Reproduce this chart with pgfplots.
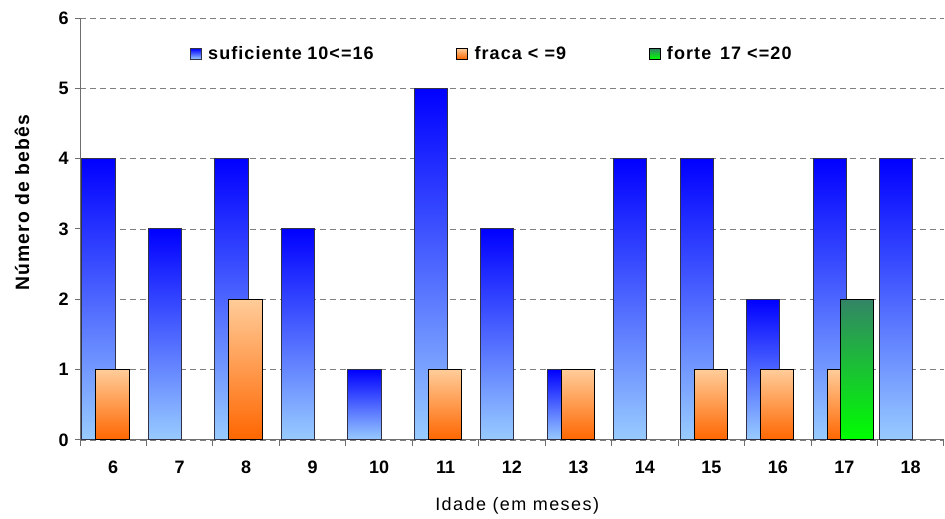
\documentclass[border=0pt]{standalone}
\usepackage{pgfplots}
\pgfplotsset{compat=1.18}
\usepackage{fontspec}
\setmainfont{Liberation Sans}
\newfontfamily\lsfont[LetterSpace=6]{Liberation Sans}
\newfontfamily\lxfont[LetterSpace=8]{Liberation Sans}
\newcommand{\lf}{\fontsize{13.5}{16}\selectfont}
\definecolor{btop}{RGB}{0,0,255}
\definecolor{bbot}{RGB}{153,204,255}
\definecolor{bedge}{RGB}{50,50,70}
\definecolor{otop}{RGB}{255,204,153}
\definecolor{obot}{RGB}{255,102,0}
\definecolor{gtop}{RGB}{51,133,102}
\definecolor{gbot}{RGB}{0,255,0}
\definecolor{axgray}{RGB}{110,110,110}
\pgfplotsset{
  sq legend/.style={legend image code/.code={\draw[##1,line width=0.6pt] (0pt,-4pt) rectangle (8pt,4pt);}},
  bS/.style={sq legend, bar shift=-0.22, draw=bedge, line width=0.75pt, top color=btop, bottom color=bbot},
  oS/.style={sq legend, bar shift=-0.01, draw=black, line width=0.75pt, top color=otop, bottom color=obot},
  gS/.style={sq legend, bar shift=0.19, draw=black, line width=0.75pt, top color=gtop, bottom color=gbot},
}
\begin{document}
\begin{tikzpicture}
\begin{axis}[
  scale only axis, width=648pt, height=316.5pt,
  xmin=5.5, xmax=18.5, ymin=0, ymax=6,
  axis x line*=bottom, axis y line*=left,
  axis line style={draw=axgray, line width=0.75pt},
  ybar, bar width=0.5,
  xtick={6,...,18},
  major x tick style={draw=none},
  minor xtick={5.5,6.5,...,18.5},
  minor x tick style={draw=axgray, line width=0.75pt},
  ytick={0,...,6},
  y tick style={draw=axgray, line width=0.75pt},
  tick align=outside,
  major tick length=4pt, minor tick length=4.5pt,
  ymajorgrids,
  grid style={gray, line width=0.6pt, dash pattern=on 4.5pt off 3pt},
  /pgf/number format/assume math mode=true,
  xticklabel style={font=\lf\bfseries, yshift=-8.5pt},
  yticklabel style={font=\lf\bfseries, xshift=-1pt},
  xlabel={Idade (em meses)},
  xlabel style={font=\lf\lxfont, at={(axis description cs:0.506,-0.156)}, anchor=center},
  ylabel={Número de bebês},
  ylabel style={font=\fontsize{14.5}{17}\selectfont\lsfont\bfseries, at={(axis description cs:-0.067,0.562)}, anchor=center},
  legend columns=3,
  legend style={draw=none, fill=none, font=\lf\lsfont\bfseries,
    at={(axis description cs:0.477,0.915)}, anchor=center,
    /tikz/every odd column/.append style={column sep=3pt},
    /tikz/every even column/.append style={column sep=60pt}},
  clip=false,
]
% suficiente 10<=16
\addplot[bS] coordinates {(6,4)};
\addlegendentry{suficiente\hspace{0.3em}10<=16}
\addplot[bS, forget plot] coordinates {(7,3)};
\addplot[bS, forget plot] coordinates {(8,4)};
\addplot[bS, forget plot] coordinates {(9,3)};
\addplot[bS, forget plot] coordinates {(10,1)};
\addplot[bS, forget plot] coordinates {(11,5)};
\addplot[bS, forget plot] coordinates {(12,3)};
\addplot[bS, forget plot] coordinates {(13,1)};
\addplot[bS, forget plot] coordinates {(14,4)};
\addplot[bS, forget plot] coordinates {(15,4)};
\addplot[bS, forget plot] coordinates {(16,2)};
\addplot[bS, forget plot] coordinates {(17,4)};
\addplot[bS, forget plot] coordinates {(18,4)};
% fraca < =9
\addplot[oS] coordinates {(6,1)};
\addlegendentry{fraca < =9}
\addplot[oS, forget plot] coordinates {(8,2)};
\addplot[oS, forget plot] coordinates {(11,1)};
\addplot[oS, forget plot] coordinates {(13,1)};
\addplot[oS, forget plot] coordinates {(15,1)};
\addplot[oS, forget plot] coordinates {(16,1)};
\addplot[oS, forget plot] coordinates {(17,1)};
% forte 17 <=20
\addplot[gS] coordinates {(17,2)};
\addlegendentry{forte\hspace{0.15em} 17 <=20}
\coordinate (bl) at (axis description cs:-0.0926,-0.1825);
\coordinate (tr) at (axis description cs:1.0012,1.0427);
\end{axis}
\path (bl) rectangle (tr);
\end{tikzpicture}
\end{document}
